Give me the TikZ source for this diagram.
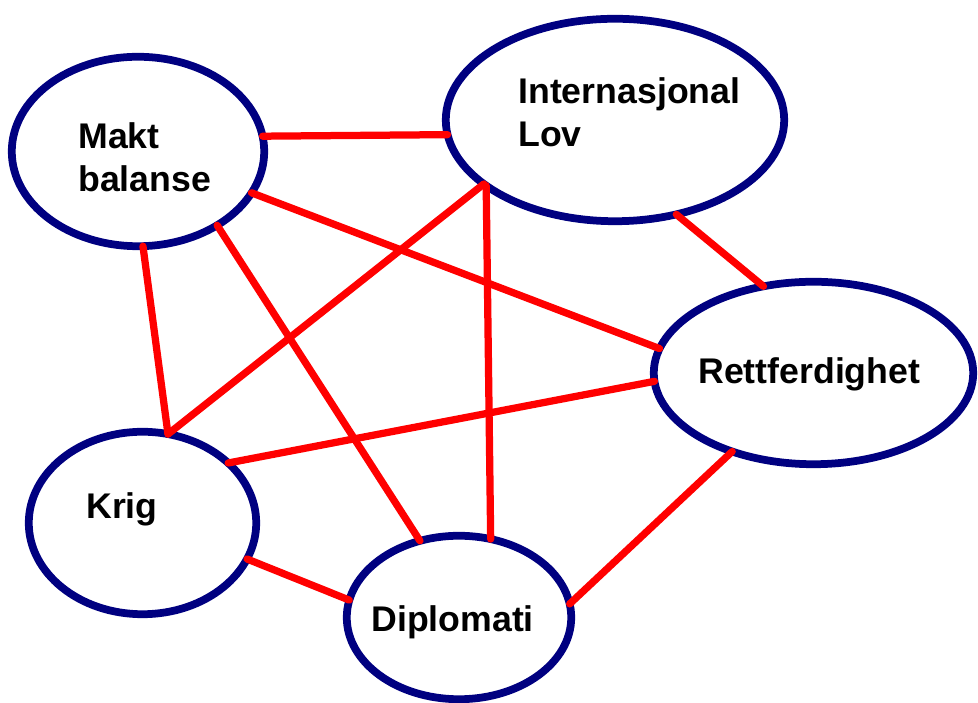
\documentclass[tikz,border=0pt]{standalone}
\usepackage{fontspec}
\setmainfont{Liberation Sans}
\usepackage{tikz}
\usetikzlibrary{shapes.geometric}
\definecolor{ringblue}{RGB}{0,0,128}
\definecolor{linkred}{RGB}{255,0,0}
\tikzset{
  ring/.style={ellipse, draw=ringblue, line width=0.155cm, outer sep=0pt, inner sep=0pt},
  link/.style={linkred, line width=0.145cm, line cap=round},
  word/.style={font=\bfseries\fontsize{20.3}{24.4}\selectfont, align=left, inner sep=0pt, anchor=north west}
}
\begin{document}
\begin{tikzpicture}[x=0.02cm,y=0.02cm,]
\useasboundingbox (0,0) rectangle (978,703);

\node [ring, minimum width=5.05cm, minimum height=3.79cm] (makt) at (138,551.5) {};
\node [ring, minimum width=6.77cm, minimum height=4.05cm] (intl) at (615,583) {};
\node [ring, minimum width=6.39cm, minimum height=3.65cm] (rett) at (813.5,330) {};
\node [ring, minimum width=4.55cm, minimum height=3.65cm] (krig) at (142.5,180) {};
\node [ring, minimum width=4.49cm, minimum height=3.27cm] (dipl) at (459,85.5) {};

\node [word] (makttext) at (78,581) {Makt\\balanse};
\node [word] (intltext) at (518,626) {Internasjonal\\Lov};
\node [word] (retttext) at (698,346) {Rettferdighet};
\node [word] (krigtext) at (86,211) {Krig};
\node [word] (dipltext) at (371,98) {Diplomati};

\draw [link] (makt.7) -- (intl.185);
\draw [link] (makt.340) -- (rett.171);
\draw [link] (makt.317) -- (dipl.117);
\draw [link] (makt.273) -- (krig.74);
\draw [link] (intl.206) -- (krig.74);
\draw [link] (intl.207) -- (dipl.68);
\draw [link] (intl.303) -- (rett.120);
\draw [link] (rett.183) -- (krig.35);
\draw [link] (rett.224) -- (dipl.7);
\draw [link] (krig.341) -- (dipl.171);
\end{tikzpicture}
\end{document}
